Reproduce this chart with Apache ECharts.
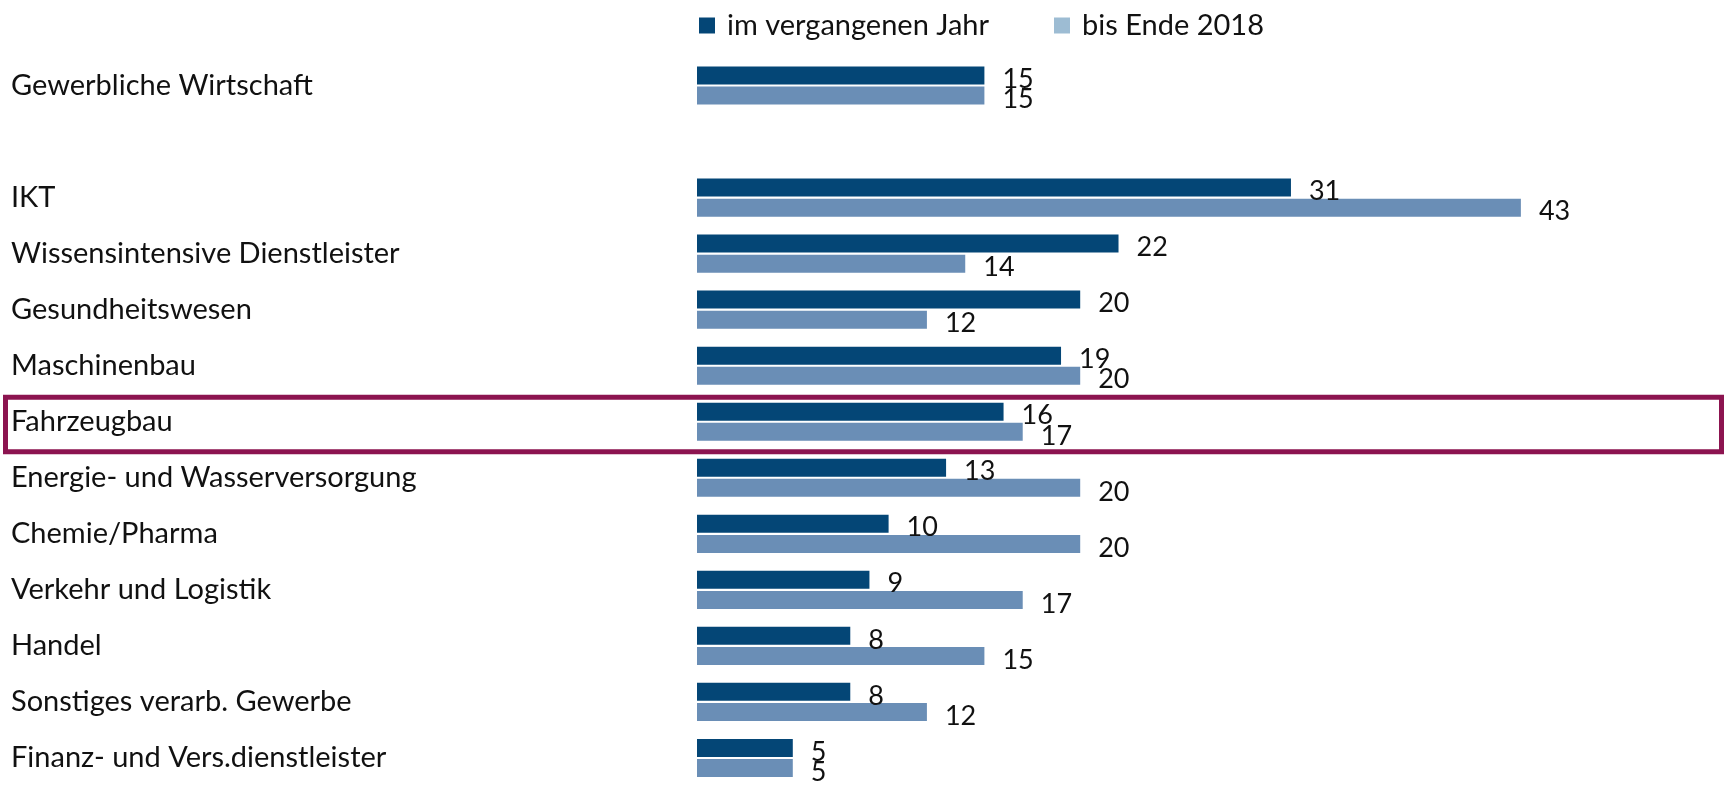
<!DOCTYPE html>
<html><head><meta charset="utf-8">
<script src="https://cdn.jsdelivr.net/npm/echarts@6/dist/echarts.min.js"></script>
<style>html,body{margin:0;padding:0;background:#fff}#c{width:1725px;height:786px}</style>
</head><body><div id="c"></div>
<script>
const categories = ['Gewerbliche Wirtschaft', '', 'IKT', 'Wissensintensive Dienstleister', 'Gesundheitswesen', 'Maschinenbau', 'Fahrzeugbau', 'Energie- und Wasserversorgung', 'Chemie/Pharma', 'Verkehr und Logistik', 'Handel', 'Sonstiges verarb. Gewerbe', 'Finanz- und Vers.dienstleister'];
const seriesNames = ['im vergangenen Jahr', 'bis Ende 2018'];
const lastYear = [15, null, 31, 22, 20, 19, 16, 13, 10, 9, 8, 8, 5];
const until2018 = [15, null, 43, 14, 12, 20, 17, 20, 20, 17, 15, 12, 5];
const highlighted = 'Fahrzeugbau';

const FONT = 'Lato, "Noto Sans", sans-serif';
const chart = echarts.init(document.getElementById('c'));
const labelCfg = {show: true, position: 'right', distance: 18, offset: [0, 4], color: '#111', fontSize: 27, fontFamily: FONT};
const legendText = {fontSize: 29, fontFamily: FONT, color: '#111', padding: [0, 0, 0, 7]};
chart.setOption({
  animation: false,
  legend: [
    {left: 694, top: 6, itemWidth: 16, itemHeight: 16, icon: 'rect', textStyle: legendText,
     data: [{name: seriesNames[0], itemStyle: {color: '#044676'}}]},
    {left: 1049, top: 6, itemWidth: 16, itemHeight: 16, icon: 'rect', textStyle: legendText,
     data: [{name: seriesNames[1], itemStyle: {color: '#9DBCD3'}}]}
  ],
  grid: {left: 697, top: 57.5, height: 736.5, width: 19.16 * 50, containLabel: false},
  xAxis: {type: 'value', min: 0, max: 50, show: false},
  yAxis: {type: 'category', data: categories, inverse: true,
    axisLine: {show: false}, axisTick: {show: false}, splitLine: {show: false},
    axisLabel: {margin: 686, align: 'left', fontSize: 29, fontFamily: FONT, color: '#111'}},
  series: [
    {name: seriesNames[0], type: 'bar', data: lastYear, barWidth: 18, barGap: '12%',
     itemStyle: {color: '#044676'}, label: labelCfg},
    {name: seriesNames[1], type: 'bar', data: until2018, barWidth: 18,
     itemStyle: {color: '#6A8EB6'}, label: labelCfg}
  ]
});
const cy = chart.convertToPixel({yAxisIndex: 0}, highlighted);
const band = chart.getModel().getComponent('yAxis', 0).axis.getBandWidth();
chart.setOption({graphic: [{type: 'rect', shape: {x: 5.5, y: cy - band / 2 + 3.5, width: 1716, height: band - 1.5},
  style: {fill: 'none', stroke: '#8C1450', lineWidth: 5}}]});
</script></body></html>
